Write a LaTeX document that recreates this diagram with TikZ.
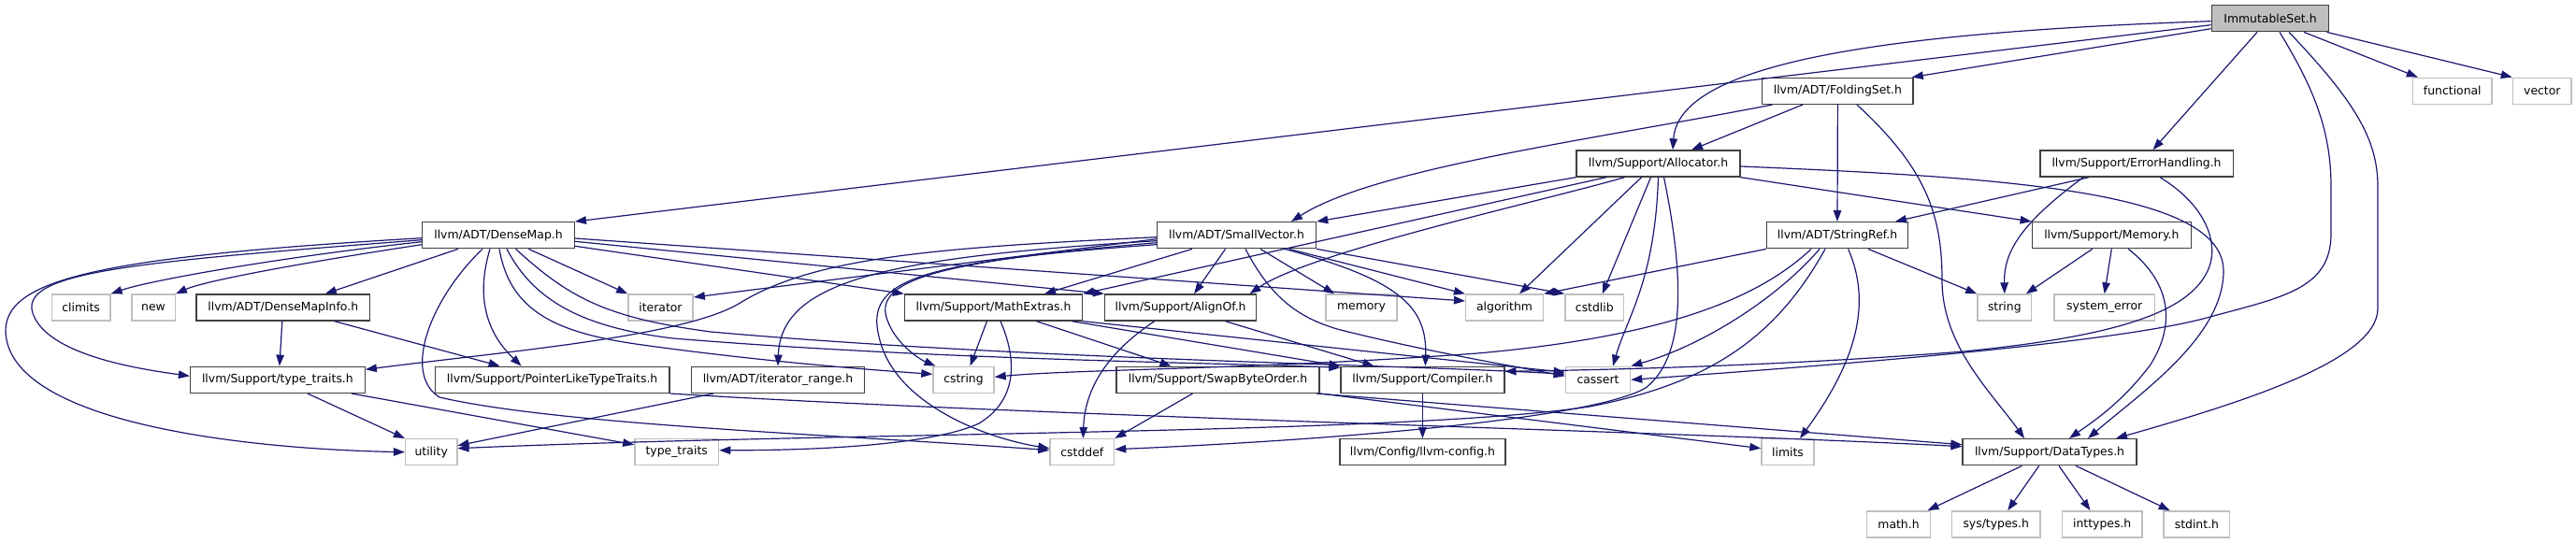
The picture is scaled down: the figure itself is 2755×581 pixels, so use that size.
\documentclass[tikz,border=0pt]{standalone}
\usepackage{fontspec}
\setmainfont{DejaVu Sans}
\usetikzlibrary{arrows.meta}
\definecolor{edgec}{HTML}{191970}
\definecolor{boxd}{HTML}{404040}
\definecolor{boxl}{HTML}{BFBFBF}
\begin{document}
\begin{tikzpicture}[x=1pt,y=-1pt,
  bx/.style={draw=boxd, line width=1.4pt, fill=white, inner sep=0pt, minimum height=28pt, font=\fontsize{12.4}{14}\selectfont},
  gbx/.style={bx, draw=boxl},
  dep/.style={draw=edgec, line width=1.2pt, -{Triangle[length=12pt,width=8.5pt]}}]
\useasboundingbox[fill=white] (0,0) rectangle (2755,581);
% nodes
\node[bx, fill=boxl, minimum width=125.5pt] (imm) at (2428,19.7) {ImmutableSet.h};
\node[bx, minimum width=161.4pt] (fold) at (1965.4,97.3) {llvm/ADT/FoldingSet.h};
\node[gbx, minimum width=84.1pt] (func) at (2622.8,97.3) {functional};
\node[gbx, minimum width=62.7pt] (vec) at (2718.8,97.3) {vector};
\node[bx, minimum width=174.7pt] (alloc) at (1773.5,175) {llvm/Support/Allocator.h};
\node[bx, minimum width=206.4pt] (errh) at (2285,175) {llvm/Support/ErrorHandling.h};
\node[bx, minimum width=162.5pt] (dmap) at (533,251.7) {llvm/ADT/DenseMap.h};
\node[bx, minimum width=170pt] (svec) at (1322.5,251.7) {llvm/ADT/SmallVector.h};
\node[bx, minimum width=151pt] (sref) at (1965,251.7) {llvm/ADT/StringRef.h};
\node[bx, minimum width=170pt] (mem) at (2258.3,251.7) {llvm/Support/Memory.h};
\node[gbx, minimum width=62.7pt] (climits) at (86.6,329) {climits};
\node[gbx, minimum width=46.4pt] (new) at (164,329) {new};
\node[bx, minimum width=185.5pt] (dmi) at (302.8,329) {llvm/ADT/DenseMapInfo.h};
\node[gbx, minimum width=69.3pt] (iter) at (706.5,329) {iterator};
\node[bx, minimum width=190pt] (mathx) at (1062.5,329) {llvm/Support/MathExtras.h};
\node[bx, minimum width=162pt] (align) at (1262.6,329) {llvm/Support/AlignOf.h};
\node[gbx, minimum width=75.7pt] (memory) at (1456,329) {memory};
\node[gbx, minimum width=82.8pt] (algo) at (1609,329) {algorithm};
\node[gbx, minimum width=62.8pt] (cstdlib) at (1705.3,329) {cstdlib};
\node[gbx, minimum width=57.8pt] (string) at (2143.8,329) {string};
\node[gbx, minimum width=107.2pt] (syserr) at (2250.7,329) {system\_error};
\node[bx, minimum width=186.6pt] (ttr) at (296.9,406.3) {llvm/Support/type\_traits.h};
\node[bx, minimum width=250.5pt] (pltt) at (590.6,406.3) {llvm/Support/PointerLikeTypeTraits.h};
\node[bx, minimum width=185.3pt] (irange) at (832,406.3) {llvm/ADT/iterator\_range.h};
\node[gbx, minimum width=65pt] (cstring) at (1030.5,406.3) {cstring};
\node[bx, minimum width=217pt] (swap) at (1302.5,406.3) {llvm/Support/SwapByteOrder.h};
\node[bx, minimum width=174.8pt] (comp) at (1521.4,406.3) {llvm/Support/Compiler.h};
\node[gbx, minimum width=69.2pt] (cassert) at (1709,406.3) {cassert};
\node[gbx, minimum width=55.2pt] (utility) at (461.2,483.7) {utility};
\node[gbx, minimum width=89.7pt] (typetr) at (723.7,483.7) {type\_traits};
\node[gbx, minimum width=68.6pt] (cstddef) at (1157.3,483.7) {cstddef};
\node[bx, minimum width=177.2pt] (llvmcfg) at (1521.4,483.7) {llvm/Config/llvm-config.h};
\node[gbx, minimum width=56pt] (limits) at (1912,483.7) {limits};
\node[bx, minimum width=185.8pt] (dtypes) at (2192,483.7) {llvm/Support/DataTypes.h};
\node[gbx, minimum width=67.6pt] (math) at (2030.5,560.8) {math.h};
\node[gbx, minimum width=94.4pt] (systypes) at (2134.7,560.8) {sys/types.h};
\node[gbx, minimum width=85.3pt] (inttypes) at (2248.2,560.8) {inttypes.h};
\node[gbx, minimum width=70.7pt] (stdint) at (2349.4,560.8) {stdint.h};
% ImmutableSet.h
\draw[dep] ([yshift=-3]imm.west) .. controls (2000,35) and (1795,70) .. ([xshift=15.5]alloc.north);
\draw[dep] ([yshift=-7]imm.west) -- (dmap.north east);
\draw[dep] ([yshift=-11]imm.west) -- ([xshift=-2]fold.north east);
\draw[dep] ([xshift=-14]imm.south) -- ([xshift=17.5]errh.north);
\draw[dep] ([xshift=10]imm.south) .. controls (2475,95) and (2493,140) .. (2493,200) -- (2493,250) .. controls (2493,310) and (2440,318) .. (2360,340) .. controls (2250,370) and (1900,395) .. (cassert.east);
\draw[dep] ([xshift=20]imm.south) .. controls (2520,110) and (2543,150) .. (2543,200) -- (2543,330) .. controls (2543,385) and (2400,430) .. ([xshift=71]dtypes.north);
\draw[dep] ([xshift=36]imm.south) -- ([xshift=-37]func.north);
\draw[dep] ([xshift=-3]imm.south east) -- (vec.north west);
% FoldingSet.h
\draw[dep] ([xshift=-69.8]fold.south) .. controls (1700,150) and (1470,180) .. ([xshift=58.5]svec.north);
\draw[dep] ([xshift=-37.4]fold.south) -- ([xshift=35.5]alloc.north);
\draw[dep] (fold.south) -- (sref.north);
\draw[dep] ([xshift=20.5]fold.south) .. controls (2060,180) and (2077,230) .. (2077,300) .. controls (2077,370) and (2130,420) .. ([xshift=-27]dtypes.north);
% Allocator.h
\draw[dep] (alloc.south west) -- (svec.north east);
\draw[dep] ([xshift=-55.7]alloc.south) -- (mathx.north east);
\draw[dep] ([xshift=-36]alloc.south) .. controls (1650,215) and (1400,270) .. ([xshift=74]align.north);
\draw[dep] ([xshift=-18]alloc.south) -- ([xshift=16]algo.north);
\draw[dep] ([xshift=-8]alloc.south) -- ([xshift=8.5]cstdlib.north);
\draw[dep] (alloc.south) .. controls (1770,300) and (1740,340) .. ([xshift=16]cassert.north);
\draw[dep] ([xshift=6]alloc.south) .. controls (1800,290) and (1805,380) .. (1760,415) .. controls (1700,450) and (1400,472) .. ([yshift=3]cstddef.east);
\draw[dep] (alloc.south east) -- (mem.north west);
\draw[dep] ([yshift=-3]alloc.east) .. controls (2150,190) and (2378,205) .. (2378,290) .. controls (2378,360) and (2290,420) .. ([xshift=41]dtypes.north);
% ErrorHandling.h
\draw[dep] ([xshift=-51]errh.south) -- ([xshift=62]sref.north);
\draw[dep] ([xshift=-57]errh.south) .. controls (2160,240) and (2143,270) .. (string.north);
\draw[dep] ([xshift=25]errh.south) .. controls (2360,220) and (2372,260) .. (2363,285) .. controls (2345,335) and (2260,360) .. (2100,376) .. controls (1900,392) and (1700,396) .. ([yshift=9]comp.east);
% Memory.h
\draw[dep] ([xshift=-20.6]mem.south) -- ([xshift=23]string.north);
\draw[dep] (mem.south) -- (syserr.north);
\draw[dep] ([xshift=18]mem.south) .. controls (2325,305) and (2325,350) .. (2300,390) .. controls (2270,430) and (2240,450) .. ([xshift=21]dtypes.north);
% StringRef.h
\draw[dep] (sref.south west) -- (algo.north east);
\draw[dep] ([xshift=-28]sref.south) .. controls (1880,320) and (1780,360) .. (1580,378) .. controls (1350,395) and (1150,395) .. ([yshift=3]cstring.east);
\draw[dep] ([xshift=-19]sref.south) .. controls (1900,320) and (1820,370) .. (cassert.north east);
\draw[dep] ([xshift=-13]sref.south) .. controls (1900,360) and (1830,410) .. (1700,435) .. controls (1500,465) and (900,462) .. ([yshift=4]utility.east);
\draw[dep] ([xshift=11.6]sref.south) .. controls (2000,320) and (1990,380) .. ([xshift=13]limits.north);
\draw[dep] ([xshift=33]sref.south) -- (string.north west);
% SmallVector.h
\draw[dep] ([yshift=-4]svec.west) -- ([yshift=11]iter.east);
\draw[dep] ([yshift=-6]svec.west) .. controls (950,275) and (835,300) .. (irange.north);
\draw[dep] ([yshift=-8]svec.west) .. controls (1000,280) and (930,300) .. (950,345) .. controls (960,370) and (985,385) .. ([xshift=-30]cstring.north);
\draw[dep] ([yshift=-10]svec.west) .. controls (980,280) and (925,300) .. (940,360) .. controls (955,430) and (1050,468) .. ([yshift=4]cstddef.west);
\draw[dep] ([yshift=-2]svec.west) .. controls (1000,265) and (870,275) .. (790,325) .. controls (730,360) and (550,375) .. ([yshift=11]ttr.east);
\draw[dep] ([xshift=-47.5]svec.south) -- ([xshift=54.5]mathx.north);
\draw[dep] ([xshift=-12]svec.south) -- ([xshift=14.5]align.north);
\draw[dep] ([xshift=9.5]svec.south) .. controls (1360,320) and (1390,340) .. (1430,352) .. controls (1520,375) and (1620,392) .. ([yshift=4]cassert.west);
\draw[dep] ([xshift=25.5]svec.south) -- ([xshift=-29]memory.north);
\draw[dep] ([xshift=51.5]svec.south) .. controls (1500,300) and (1526,330) .. ([xshift=3]comp.north);
\draw[dep] ([xshift=56]svec.south) -- (algo.north west);
\draw[dep] (svec.south east) -- (cstdlib.north west);
% DenseMap.h
\draw[dep] ([xshift=-43]dmap.south) -- ([xshift=45]dmi.north);
\draw[dep] ([yshift=-7]dmap.west) .. controls (300,275) and (160,300) .. (climits.north east);
\draw[dep] ([yshift=-10]dmap.west) .. controls (330,280) and (220,300) .. (new.north east);
\draw[dep] ([yshift=-5]dmap.west) .. controls (150,280) and (20,290) .. (35,335) .. controls (50,380) and (150,395) .. ([yshift=4]ttr.west);
\draw[dep] ([yshift=-3]dmap.west) .. controls (100,275) and (5,300) .. (6,355) .. controls (10,450) and (250,480) .. (utility.west);
\draw[dep] ([xshift=-9]dmap.south) .. controls (505,330) and (530,365) .. ([xshift=-33]pltt.north);
\draw[dep] ([xshift=-17]dmap.south) .. controls (460,320) and (430,400) .. (470,425) .. controls (600,455) and (900,465) .. ([yshift=2]cstddef.west);
\draw[dep] ([xshift=1]dmap.south) .. controls (545,330) and (590,355) .. (680,368) .. controls (800,385) and (920,395) .. ([yshift=6]cstring.west);
\draw[dep] ([xshift=9]dmap.south) .. controls (570,320) and (620,350) .. (720,362) .. controls (1000,385) and (1300,388) .. ([yshift=13]comp.west);
\draw[dep] ([xshift=18.6]dmap.south) .. controls (610,320) and (650,340) .. (760,355) .. controls (1100,385) and (1500,390) .. ([yshift=6]cassert.west);
\draw[dep] ([xshift=32.4]dmap.south) -- (iter.north west);
\draw[dep] ([yshift=-3.3]dmap.east) -- ([yshift=7]algo.west);
\draw[dep] ([yshift=-6.6]dmap.east) -- (align.north west);
\draw[dep] ([yshift=-11.6]dmap.east) -- (mathx.north west);
% DenseMapInfo.h
\draw[dep] ([xshift=-1]dmi.south) -- ([xshift=2]ttr.north);
\draw[dep] ([xshift=55]dmi.south) -- ([xshift=-56]pltt.north);
% type_traits.h
\draw[dep] ([xshift=32]ttr.south) -- (utility.north west);
\draw[dep] ([xshift=79]ttr.south) -- ([yshift=8]typetr.west);
% PointerLikeTypeTraits.h
\draw[dep] (pltt.south east) .. controls (1100,445) and (1800,462) .. ([yshift=6]dtypes.west);
% iterator_range.h
\draw[dep] ([xshift=-69]irange.south) -- ([yshift=7]utility.east);
% MathExtras.h
\draw[dep] ([xshift=-7]mathx.south) -- ([xshift=7]cstring.north);
\draw[dep] ([xshift=7.5]mathx.south) .. controls (1090,390) and (1085,430) .. (1047,453) .. controls (1000,475) and (880,482) .. ([yshift=2]typetr.east);
\draw[dep] ([xshift=46]mathx.south) -- ([xshift=-50]swap.north);
\draw[dep] ([xshift=84]mathx.south) -- (comp.north west);
\draw[dep] (mathx.south east) -- ([yshift=8]cassert.west);
% AlignOf.h
\draw[dep] ([xshift=-28]align.south) .. controls (1180,380) and (1160,420) .. ([xshift=1]cstddef.north);
\draw[dep] ([xshift=48]align.south) -- ([xshift=-52]comp.north);
% SwapByteOrder.h
\draw[dep] ([xshift=-27]swap.south) -- (cstddef.north east);
\draw[dep] (swap.south east) -- ([yshift=4]limits.west);
\draw[dep] ([xshift=-4]swap.south east) -- ([yshift=8]dtypes.west);
% Compiler.h
\draw[dep] (comp.south) -- (llvmcfg.north);
% DataTypes.h
\draw[dep] ([xshift=-29.6]dtypes.south) -- ([xshift=31]math.north);
\draw[dep] ([xshift=-11.3]dtypes.south) -- ([xshift=12.5]systypes.north);
\draw[dep] ([xshift=10]dtypes.south) -- ([xshift=-12.7]inttypes.north);
\draw[dep] ([xshift=28.2]dtypes.south) -- ([xshift=-28.7]stdint.north);
\end{tikzpicture}
\end{document}
